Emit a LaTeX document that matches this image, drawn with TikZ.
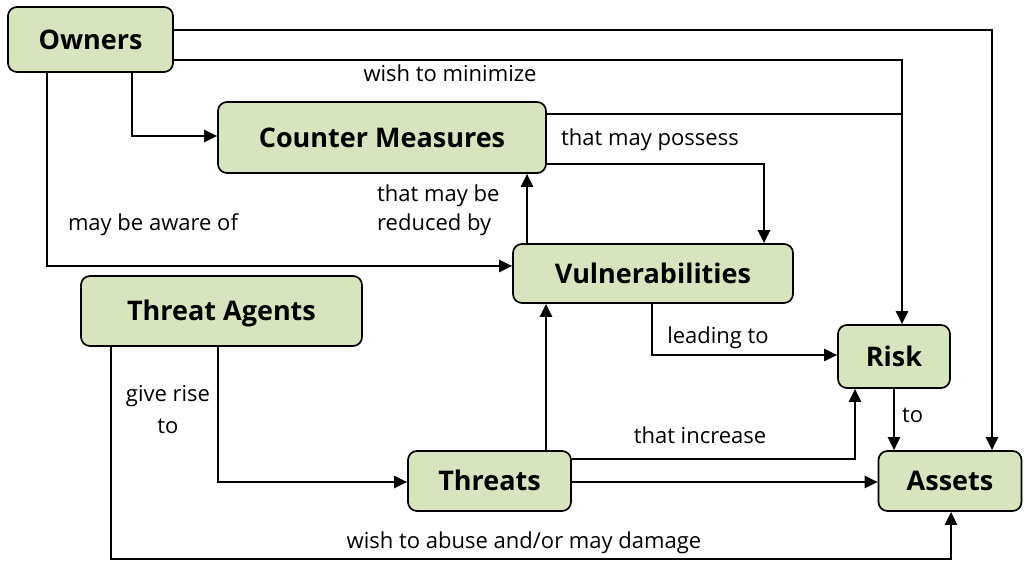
\documentclass[tikz,border=0pt]{standalone}
\usepackage{fontspec}
\setmainfont{Open Sans}
\usetikzlibrary{arrows.meta}
\definecolor{boxfill}{RGB}{216,228,190}
\begin{document}
\begin{tikzpicture}[x=1pt,y=-1pt,
  box/.style={draw=black, line width=1.7pt, fill=boxfill, rounded corners=9pt, inner sep=0pt,
    font=\fontsize{27}{32}\selectfont\bfseries, text height=19.5pt, text depth=0pt},
  conn/.style={line width=2.2pt, -{Triangle[length=13pt,width=12pt]}},
  plain/.style={line width=2.2pt},
  lbl/.style={inner sep=0pt, font=\fontsize{22}{34}\selectfont, anchor=base}]
\useasboundingbox (0,0) rectangle (1024,561);
% boxes
\node[box, minimum width=165pt, minimum height=65pt] (own) at (90.5,39.5) {Owners};
\node[box, minimum width=328pt, minimum height=71pt] (cm) at (382,137.5) {Counter Measures};
\node[box, minimum width=280pt, minimum height=59pt] (vul) at (653,273.5) {Vulnerabilities};
\node[box, minimum width=281pt, minimum height=70pt] (ta) at (221.5,311) {Threat Agents};
\node[box, minimum width=163pt, minimum height=60pt] (thr) at (489.5,481) {Threats};
\node[box, minimum width=112pt, minimum height=63pt] (risk) at (894,356.5) {Risk};
\node[box, minimum width=143pt, minimum height=60pt] (ast) at (950,481) {Assets};
% helper coordinates
\coordinate (a1) at (992,30);
\coordinate (a2) at (902,60);
\coordinate (a3) at (132,136);
\coordinate (a4) at (47,266);
\coordinate (a5) at (764,164);
\coordinate (a6) at (527,0);
\coordinate (a7) at (218,482);
\coordinate (b1) at (111,559);
\coordinate (b2) at (951,559);
\coordinate (a9) at (652,355);
\coordinate (a10) at (855,459);
\coordinate (a11) at (546,0);
\coordinate (a12) at (894,0);
\coordinate (a13) at (902,114);
% connectors
\draw[conn] (own.east |- a1) -- (a1) -- (ast.north -| a1);
\draw[conn] (own.east |- a2) -- (a2) -- (risk.north -| a2);
\draw[plain] (cm.east |- a13) -- (a13);
\draw[conn] (cm.east |- a5) -- (a5) -- (vul.north -| a5);
\draw[conn] (own.south -| a3) -- (a3) -- (cm.west |- a3);
\draw[conn] (own.south -| a4) -- (a4) -- (vul.west |- a4);
\draw[conn] (vul.north -| a6) -- (cm.south -| a6);
\draw[conn] (ta.south -| a7) -- (a7) -- (thr.west |- a7);
\draw[conn] (ta.south -| b1) -- (b1) -- (b2) -- (ast.south -| b2);
\draw[conn] (thr.north -| a11) -- (vul.south -| a11);
\draw[conn] (vul.south -| a9) -- (a9) -- (risk.west |- a9);
\draw[conn] (thr.east |- a10) -- (a10) -- (risk.south -| a10);
\draw[conn] (thr.east |- a7) -- (ast.west |- a7);
\draw[conn] (risk.south -| a12) -- (ast.north -| a12);
% labels
\node[lbl] (l1) at (450,82) {wish to minimize};
\node[lbl] (l2) at (650,146) {that may possess};
\node[lbl] (l3) at (153,230) {may be aware of};
\node[lbl, anchor=base west, align=left, font=\fontsize{22}{29}\selectfont] (l4) at (377,231) {that may be\\reduced by};
\node[lbl, align=center, font=\fontsize{22}{32}\selectfont] (l5) at (168,433) {give rise\\to};
\node[lbl] (l6) at (718,343) {leading to};
\node[lbl, anchor=base west] (l7) at (902,422) {to};
\node[lbl] (l8) at (700,443) {that increase};
\node[lbl] (l9) at (524,548) {wish to abuse and/or may damage};
\end{tikzpicture}
\end{document}
